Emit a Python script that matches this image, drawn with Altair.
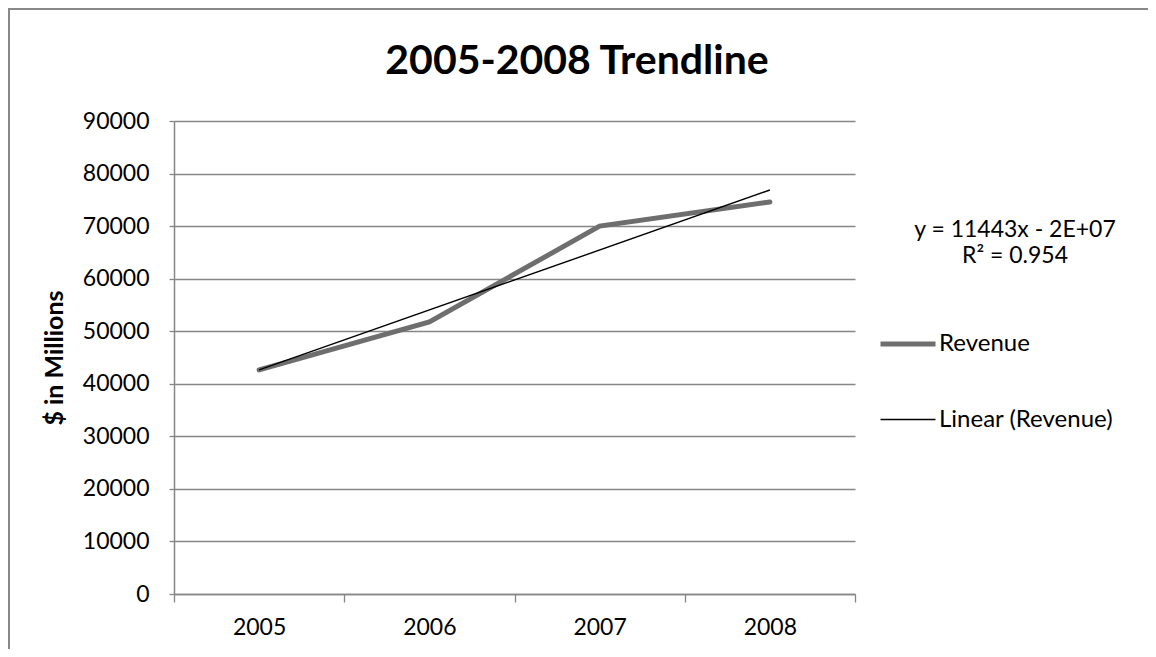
import altair as alt
import pandas as pd

years = [2005, 2006, 2007, 2008]
revenue = [42650, 51750, 70000, 74600]
series_names = ["Revenue", "Linear (Revenue)"]
series_colors = ["#6e6e6e", "#000000"]
series_widths = [5, 1.4]
y_ticks = [0, 10000, 20000, 30000, 40000, 50000, 60000, 70000, 80000, 90000]
equation_lines = ["y = 11443x - 2E+07", "R² = 0.954"]
chart_title = "2005-2008 Trendline"

FONT = "Lato"
PLOT_W, PLOT_H = 681, 473
PAD_L, PAD_T, PAD_R, PAD_B = 166, 113, 293, 55

df = pd.DataFrame({"year": years, "revenue": revenue, "series": series_names[0]})
one = pd.DataFrame({"k": [0]})

color_scale = alt.Scale(domain=series_names, range=series_colors)
width_scale = alt.Scale(domain=series_names, range=series_widths)

x_enc = alt.X("year:O", scale=alt.Scale(paddingInner=0, paddingOuter=0),
              axis=alt.Axis(title=None, tickBand="extent", grid=False,
                            labelAngle=0, tickSize=8, labelPadding=14))
y_enc = alt.Y("revenue:Q", scale=alt.Scale(domain=[0, 90000], nice=False),
              axis=alt.Axis(title="$ in Millions", values=y_ticks, format="d",
                            tickSize=5, labelPadding=20, titlePadding=15,
                            titleFontSize=25, titleFontWeight="bold"))

legend = alt.Legend(title=None, orient="none", legendX=704, legendY=193,
                    symbolType="stroke", symbolSize=3025, labelFontSize=24,
                    labelFont=FONT, labelOffset=1, rowPadding=35, padding=0,
                    labelColor="#000000", labelLimit=400)

color_enc = alt.Color("series:N", scale=color_scale, legend=legend, sort=series_names)
width_enc = alt.StrokeWidth("series:N", scale=width_scale, legend=legend, sort=series_names)

revenue_line = alt.Chart(df).mark_line(strokeCap="round", strokeJoin="miter").encode(
    x=x_enc, y=y_enc, color=color_enc, strokeWidth=width_enc,
)

trend_line = alt.Chart(df).transform_regression(
    "year", "revenue", extent=[2005, 2008]
).transform_calculate(series="'Linear (Revenue)'").mark_line().encode(
    x=alt.X("year:O"), y=alt.Y("revenue:Q"), color=color_enc, strokeWidth=width_enc,
)

eq_text = alt.Chart(one).mark_text(
    font=FONT, fontSize=23, align="center", baseline="alphabetic",
    color="#000000", lineBreak="\n", lineHeight=26,
).encode(
    text=alt.value("\n".join(equation_lines)),
    x=alt.value(841), y=alt.value(116),
)

title_text = alt.Chart(one).mark_text(
    font=FONT, fontSize=41, fontWeight="bold", align="center",
    baseline="alphabetic", color="#000000",
).encode(text=alt.value(chart_title), x=alt.value(403), y=alt.value(-47))

frame = alt.Chart(one).mark_rect(fill=None, stroke="#888888", strokeWidth=2).encode(
    x=alt.value(-PAD_L + 1), x2=alt.value(PLOT_W + PAD_R + 20),
    y=alt.value(-PAD_T + 1), y2=alt.value(PLOT_H + PAD_B + 20),
)

chart = alt.layer(frame, revenue_line, trend_line, eq_text, title_text).properties(
    width=PLOT_W, height=PLOT_H,
    autosize=alt.AutoSizeParams(type="none"),
    padding={"left": PAD_L, "top": PAD_T, "right": PAD_R, "bottom": PAD_B},
    background="white",
).configure_view(stroke=None).configure_axis(
    labelFont=FONT, labelFontSize=23, labelColor="#000000",
    titleFont=FONT, titleColor="#000000", titleFontWeight="bold", titleFontSize=25,
    domainColor="#868686", tickColor="#868686", gridColor="#868686",
    domainWidth=1.5, gridWidth=1.3, tickWidth=1.3,
).configure_axisY(titleFontSize=25, titleFontWeight="bold")

chart.save("out.html", embed_options={"renderer": "svg", "actions": False})
